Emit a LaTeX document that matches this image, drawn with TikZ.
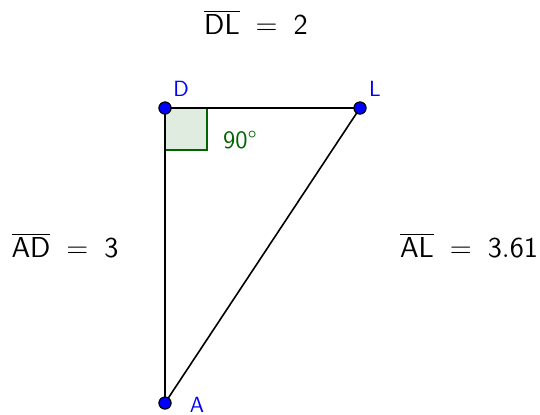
\documentclass[tikz,border=0pt]{standalone}
\usetikzlibrary{positioning}
\definecolor{ptblue}{RGB}{0,0,255}
\definecolor{anglegreen}{RGB}{0,100,0}
\definecolor{anglefill}{RGB}{224,236,224}

\begin{document}
\begin{tikzpicture}[
    x=0.5pt, y=-0.5pt,
    font=\sffamily,
    point/.style={circle, draw=black, fill=ptblue, line width=0.5pt, inner sep=0pt, minimum size=6pt},
    ptlabel/.style={text=ptblue, font=\sffamily\fontsize{11}{12}\selectfont, inner sep=0pt},
    seg/.style={line width=0.8pt, line cap=round},
    measure/.style={font=\sffamily\fontsize{15}{17}\selectfont, inner sep=0pt}
]
\useasboundingbox (0,0) rectangle (540,414);

% right angle at D
\filldraw[fill=anglefill, draw=anglegreen, line width=0.7pt] (165,108) rectangle (207,150);
\node[text=anglegreen, font=\sffamily\fontsize{12.5}{14}\selectfont, inner sep=0pt] (ang) at (240,140) {90\textdegree};

% vertices
\node[point] (D) at (165,108) {};
\node[point] (L) at (360,108) {};
\node[point] (A) at (165,403) {};

% sides
\draw[seg] (D) -- (L);
\draw[seg] (L) -- (A);
\draw[seg] (A) -- (D);

% redraw points on top
\node[point] at (D) {};
\node[point] at (L) {};
\node[point] at (A) {};

% vertex labels
\node[ptlabel] (labD) at (181,89) {D};
\node[ptlabel] (labL) at (375,89) {L};
\node[ptlabel] (labA) at (197,405) {A};

% lengths
\node[measure] (lenDL) at (256,22) {$\overline{\mathsf{DL}}\;=\;\mathsf{2}$};
\node[measure] (lenAD) at (65,245) {$\overline{\mathsf{AD}}\;=\;\mathsf{3}$};
\node[measure] (lenAL) at (469,245) {$\overline{\mathsf{AL}}\;=\;\mathsf{3.61}$};

\end{tikzpicture}
\end{document}
